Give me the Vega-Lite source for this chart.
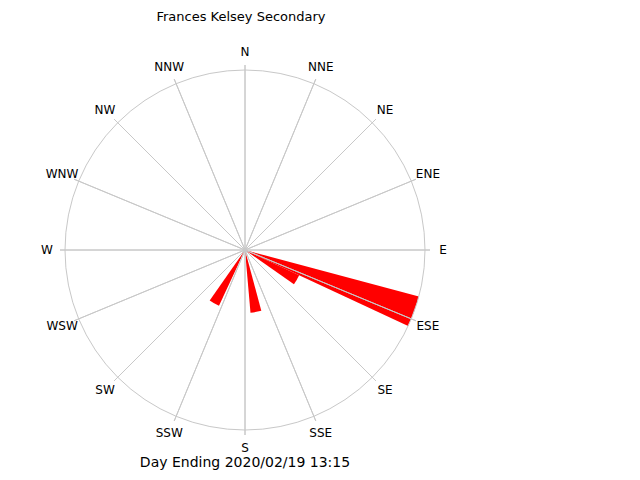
{
  "$schema": "https://vega.github.io/schema/vega-lite/v6.json",
  "autosize": "none",
  "width": 400,
  "height": 400,
  "padding": {"left": 45, "top": 50, "right": 195, "bottom": 30},
  "background": "white",
  "config": {"view": {"stroke": null}},
  "title": {
    "text": "Frances Kelsey Secondary",
    "font": "DejaVu Sans",
    "fontSize": 13,
    "fontWeight": "normal",
    "color": "black",
    "anchor": "middle",
    "baseline": "alphabetic",
    "dx": -4,
    "offset": 12
  },
  "datasets": {
    "wind": [
      {"from": 105, "to": 115, "percent": 100},
      {"from": 115, "to": 125, "percent": 33.2},
      {"from": 165, "to": 175, "percent": 35},
      {"from": 205, "to": 215, "percent": 34.2}
    ],
    "dirs": [
      {"dir": 0, "label": "N"},
      {"dir": 22.5, "label": "NNE"},
      {"dir": 45, "label": "NE"},
      {"dir": 67.5, "label": "ENE"},
      {"dir": 90, "label": "E"},
      {"dir": 112.5, "label": "ESE"},
      {"dir": 135, "label": "SE"},
      {"dir": 157.5, "label": "SSE"},
      {"dir": 180, "label": "S"},
      {"dir": 202.5, "label": "SSW"},
      {"dir": 225, "label": "SW"},
      {"dir": 247.5, "label": "WSW"},
      {"dir": 270, "label": "W"},
      {"dir": 292.5, "label": "WNW"},
      {"dir": 315, "label": "NW"},
      {"dir": 337.5, "label": "NNW"}
    ],
    "ring": [{"from": 0, "to": 360}],
    "footer": [{"dir": 180, "text": "Day Ending 2020/02/19 13:15"}]
  },
  "layer": [
    {
      "data": {"name": "wind"},
      "mark": {"type": "arc", "color": "#ff0000"},
      "encoding": {
        "theta": {"field": "from", "type": "quantitative", "scale": {"domain": [0, 360], "range": [0, 6.283185307179586]}},
        "theta2": {"field": "to"},
        "radius": {"field": "percent", "type": "quantitative", "scale": {"type": "linear", "domain": [0, 100], "range": [0, 180], "zero": true}}
      }
    },
    {
      "data": {"name": "dirs"},
      "mark": {"type": "arc", "filled": false, "color": "#c8c8c8", "strokeWidth": 1, "radius": 185},
      "encoding": {
        "theta": {"field": "dir", "type": "quantitative"},
        "theta2": {"field": "dir"}
      }
    },
    {
      "data": {"name": "ring"},
      "mark": {"type": "arc", "filled": false, "color": "#c8c8c8", "strokeWidth": 1, "radius": 180},
      "encoding": {
        "theta": {"field": "from", "type": "quantitative"},
        "theta2": {"field": "to"}
      }
    },
    {
      "data": {"name": "dirs"},
      "mark": {"type": "text", "radius": 198, "font": "DejaVu Sans", "fontSize": 12, "color": "black", "align": "center", "baseline": "middle"},
      "encoding": {
        "theta": {"field": "dir", "type": "quantitative"},
        "text": {"field": "label"}
      }
    },
    {
      "data": {"name": "footer"},
      "mark": {"type": "text", "radius": 217, "font": "DejaVu Sans", "fontSize": 14, "color": "black", "align": "center", "baseline": "alphabetic"},
      "encoding": {
        "theta": {"field": "dir", "type": "quantitative"},
        "text": {"field": "text"}
      }
    }
  ]
}
